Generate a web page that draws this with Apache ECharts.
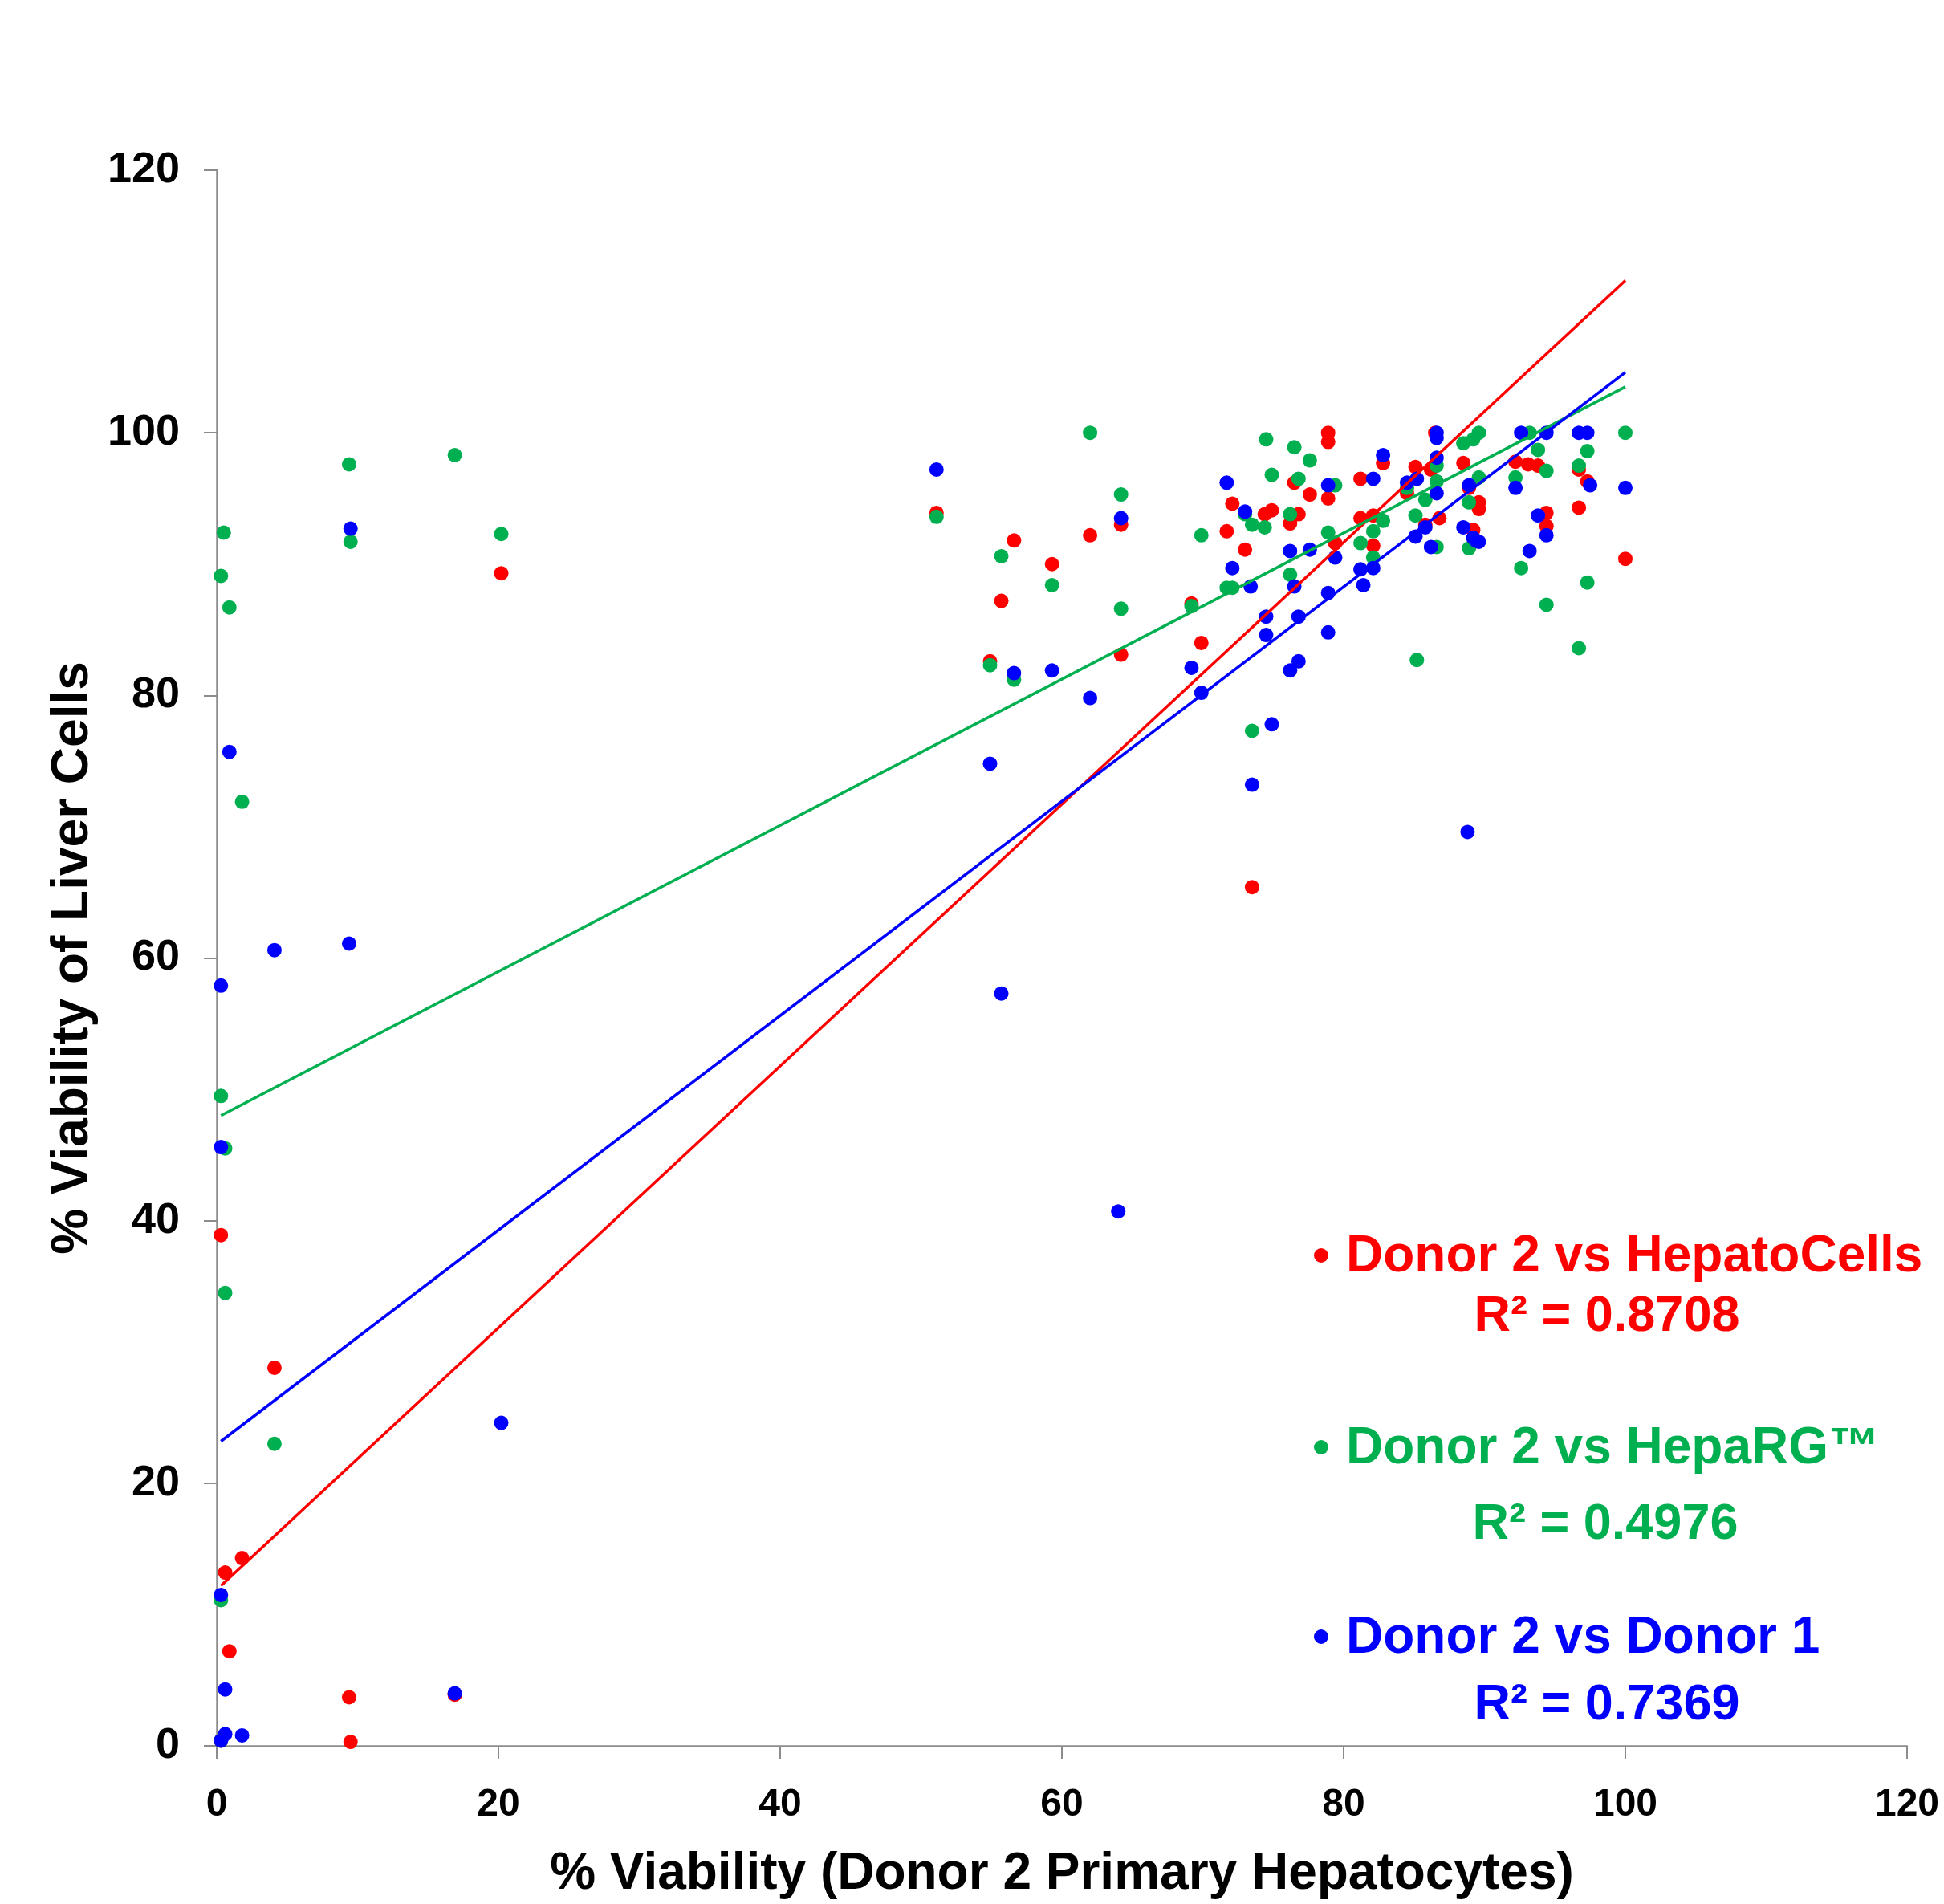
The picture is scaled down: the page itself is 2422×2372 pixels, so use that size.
<!DOCTYPE html>
<html>
<head>
<meta charset="utf-8">
<script src="https://cdn.jsdelivr.net/npm/echarts@6/dist/echarts.min.js"></script>
<style>
html,body{margin:0;padding:0;background:#fff;}
#chart{width:2422px;height:2372px;}
</style>
</head>
<body>
<div id="chart"></div>
<script>
// Donor 2 primary hepatocyte viability (x) vs viability of other liver cells (y)
const hepatoCells = [
  [0.3,38.9],[4.1,28.8],[1.8,14.3],[0.6,13.2],[0.9,7.2],[0.3,0.4],[9.4,3.7],[9.5,0.3],[16.9,3.9],[20.2,89.3],
  [51.1,93.9],[54.9,82.6],[55.7,87.2],[56.6,91.8],[59.3,90.0],[62.0,92.2],[64.2,93.0],[64.2,83.1],
  [69.2,87.0],[69.9,84.0],[71.7,92.5],[72.1,94.6],[73.0,91.1],[73.5,65.4],[74.4,93.8],[74.9,94.1],
  [76.2,93.1],[76.5,96.2],[76.8,93.8],[77.6,95.3],[78.9,100],[78.9,99.3],[78.9,95.0],[79.4,91.6],
  [81.2,93.5],[81.2,96.5],[82.1,91.4],[82.1,93.7],[82.8,97.7],[84.5,95.4],[85.1,97.4],[85.8,93.0],
  [86.2,97.2],[86.5,100],[86.8,93.5],[88.5,97.7],[88.9,95.8],[89.2,92.6],[89.6,94.7],[89.6,94.2],
  [92.2,97.8],[93.1,97.6],[93.8,97.5],[94.4,93.9],[94.4,92.9],[96.7,97.2],[96.7,94.3],[97.3,96.3],[100,90.4]
];
const hepaRG = [
  [0.3,89.1],[0.5,92.4],[0.9,86.7],[1.8,71.9],[0.3,49.5],[0.6,45.5],[0.6,34.5],[4.1,23.0],[0.3,11.1],[0.3,0.4],
  [9.4,97.6],[9.5,91.7],[16.9,98.3],[20.2,92.3],
  [51.1,93.6],[54.9,82.3],[55.7,90.6],[56.6,81.2],[59.3,88.4],[62.0,100],[64.2,95.3],[64.2,86.6],
  [69.2,86.8],[69.9,92.2],[71.7,88.2],[72.1,88.2],[73.0,93.8],[73.5,77.3],[73.5,93.0],[74.5,99.5],
  [74.9,96.8],[74.4,92.8],[76.2,89.2],[76.2,93.8],[76.5,98.9],[76.8,96.5],[77.6,97.9],[78.9,92.4],[79.4,96.0],
  [81.2,91.6],[82.1,92.5],[82.1,90.5],[82.8,93.3],[84.5,95.8],[85.1,93.7],[85.2,82.7],[85.8,94.9],
  [86.6,91.3],[86.6,97.5],[86.6,96.3],[88.5,99.2],[88.9,94.7],[88.9,91.2],[89.2,99.5],[89.6,100],[89.6,96.6],
  [92.2,96.6],[92.6,89.7],[93.2,100],[93.8,98.7],[94.4,97.1],[94.4,86.9],[96.7,97.5],[96.7,83.6],
  [97.3,98.6],[97.3,88.6],[100,100]
];
const donor1 = [
  [0.9,75.7],[4.1,60.6],[0.3,57.9],[0.3,45.6],[0.3,11.5],[0.6,4.3],[0.6,0.9],[1.8,0.8],[0.3,0.4],
  [9.4,61.1],[9.5,92.7],[16.9,4.0],[20.2,24.6],
  [51.1,97.2],[54.9,74.8],[55.7,57.3],[56.6,81.7],[59.3,81.9],[62.0,79.8],[64.2,93.5],[64.0,40.7],
  [69.2,82.1],[69.9,80.2],[71.7,96.2],[72.1,89.7],[73.0,94.0],[73.5,73.2],[73.4,88.3],[74.5,84.6],
  [74.5,86.0],[74.9,77.8],[76.2,91.0],[76.2,81.9],[76.5,88.3],[76.8,86.0],[76.8,82.6],[77.6,91.1],
  [78.9,96.0],[78.9,87.8],[78.9,84.8],[79.4,90.5],
  [81.2,89.6],[81.4,88.4],[82.1,96.5],[82.1,89.7],[82.8,98.3],[84.5,96.2],[85.1,92.1],[85.2,96.5],
  [85.8,92.8],[86.2,91.3],[86.6,99.6],[86.6,100],[86.6,95.4],[86.6,98.1],[88.5,92.8],[88.9,96.0],
  [88.8,69.6],[89.2,92.0],[89.6,91.7],[89.4,91.8],
  [92.2,95.8],[92.6,100],[93.2,91.0],[93.8,93.7],[94.4,92.2],[94.4,100],[96.7,100],[97.3,100],[97.5,96.0],[100,95.8]
];
// Linear trendline endpoints
const hepatoTrend = [[0.3,12.2],[100,111.6]];
const hepaRGTrend = [[0.3,48.0],[100,103.5]];
const donor1Trend = [[0.3,23.2],[100,104.6]];

const seriesNames = ['Donor 2 vs HepatoCells','Donor 2 vs HepaRG™','Donor 2 vs Donor 1'];
const r2Labels = ['R² = 0.8708','R² = 0.4976','R² = 0.7369'];
const axisTicks = [0,20,40,60,80,100,120];
const xTitle = '% Viability (Donor 2 Primary Hepatocytes)';
const yTitle = '% Viability of Liver Cells';

const RED='#FF0000', GREEN='#00B050', BLUE='#0000FF';
const FONT = '"Liberation Sans", Arial, sans-serif';
const chart = echarts.init(document.getElementById('chart'), null, {renderer:'canvas'});

function scatter(name, data, color){
  return {name, type:'scatter', data, symbol:'circle', symbolSize:18,
    itemStyle:{color, opacity:1}, z:2, animation:false};
}
function trend(data, color){
  return {type:'line', data, symbol:'none', lineStyle:{color, width:3.5}, z:5, animation:false, silent:true};
}
const legendText = (x,y,text,color)=>({type:'text', x:x, y:y, style:{text, fill:color,
  font:'bold 64px '+FONT, textAlign:'left', textVerticalAlign:'middle'}});
const bullet = (x,y,color)=>({type:'circle', shape:{cx:x, cy:y, r:9}, style:{fill:color}});
const r2 = (cx,y,text,color)=>({type:'text', x:cx, y:y, style:{text, fill:color,
  font:'bold 63px '+FONT, textAlign:'center', textVerticalAlign:'middle'}});

const axisCommon = {
  type:'value', min:axisTicks[0], max:axisTicks[axisTicks.length-1], interval:20,
  axisLine:{show:true, lineStyle:{color:'#8C8C8C', width:2.5}},
  axisTick:{show:true, length:16, lineStyle:{color:'#8C8C8C', width:2}},
  splitLine:{show:false},
  nameLocation:'middle',
  nameTextStyle:{fontFamily:FONT, fontWeight:'bold', fontSize:64, color:'#000'}
};

chart.setOption({
  backgroundColor:'#fff',
  animation:false,
  grid:{left:270, top:212, width:2106, height:1984, containLabel:false},
  xAxis:Object.assign({}, axisCommon, {
    name:xTitle, nameGap:128,
    axisLabel:{margin:50, fontFamily:FONT, fontWeight:'bold', fontSize:48, color:'#000'}
  }),
  yAxis:Object.assign({}, axisCommon, {
    name:yTitle, nameGap:143,
    axisLabel:{margin:46, fontFamily:FONT, fontWeight:'bold', fontSize:54, color:'#000'}
  }),
  series:[
    scatter(seriesNames[0], hepatoCells, RED),
    scatter(seriesNames[1], hepaRG, GREEN),
    scatter(seriesNames[2], donor1, BLUE),
    trend(hepatoTrend, RED),
    trend(hepaRGTrend, GREEN),
    trend(donor1Trend, BLUE)
  ],
  graphic:[
    bullet(1646,1564,RED), legendText(1677,1566,seriesNames[0],RED), r2(2002,1641,r2Labels[0],RED),
    bullet(1646,1803,GREEN), legendText(1677,1805,seriesNames[1],GREEN), r2(2000,1900,r2Labels[1],GREEN),
    bullet(1646,2039,BLUE), legendText(1677,2041,seriesNames[2],BLUE), r2(2002,2125,r2Labels[2],BLUE)
  ]
});
</script>
</body>
</html>
